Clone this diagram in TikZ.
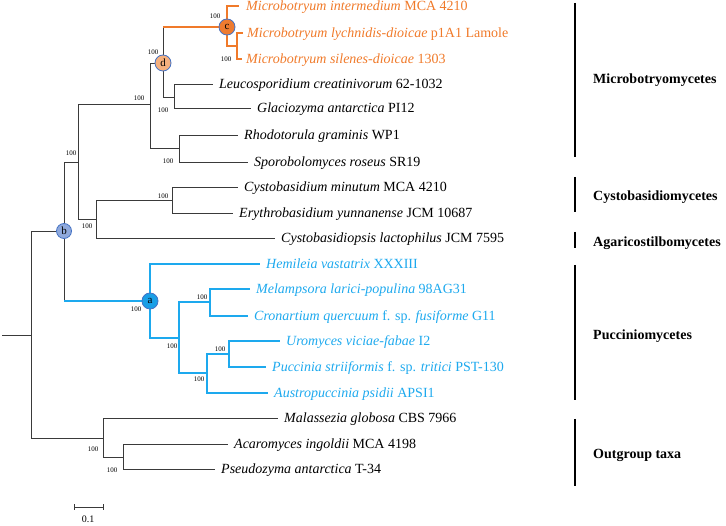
\documentclass[tikz,border=0pt]{standalone}
\usepackage{fontspec}
\setmainfont{Liberation Serif}
\definecolor{orng}{HTML}{F07A2A}
\definecolor{skyb}{HTML}{1DA9EE}
\definecolor{gline}{HTML}{3A3A3A}
\definecolor{cfill}{HTML}{EE7B30}
\definecolor{dfill}{HTML}{F5B07E}
\definecolor{bfill}{HTML}{8FA9DC}
\definecolor{afill}{HTML}{1A9FE6}
\definecolor{ringb}{HTML}{4472C4}
\begin{document}
\begin{tikzpicture}[x=1pt,y=-1pt,
  br/.style={draw=gline, line width=0.8pt},
  obr/.style={draw=orng, line width=1.6pt},
  bbr/.style={draw=skyb, line width=1.6pt},
  tip/.style={anchor=west, inner sep=0pt, text height=10pt, text depth=0pt, font=\fontsize{14}{16}\selectfont},
  bs/.style={font=\fontsize{7}{8}\selectfont, inner sep=0pt},
  circ/.style={circle, draw=ringb, line width=0.8pt, minimum size=16pt, inner sep=0pt, font=\fontsize{11}{11}\selectfont},
  clade/.style={draw=black, line width=2.5pt},
  cladelab/.style={anchor=base west, font=\bfseries\fontsize{14}{16}\selectfont, inner sep=0pt}
]
\useasboundingbox (0,0) rectangle (726,526);
% internal nodes
\coordinate (stub) at (2,335);
\coordinate (root) at (31,335);
\coordinate (nb) at (64,231);
\coordinate (n78) at (78,162);
\coordinate (nMic) at (150,104);
\coordinate (nd) at (163,63);
\coordinate (nc) at (227,27);
\coordinate (nLS) at (237,46);
\coordinate (nLG) at (174,97);
\coordinate (nRS) at (179,148);
\coordinate (n96) at (96,219);
\coordinate (nCE) at (172,200);
\coordinate (na) at (150,301);
\coordinate (n179) at (179,338);
\coordinate (n210) at (210,302);
\coordinate (n207) at (207,373);
\coordinate (n229) at (229,354);
\coordinate (n103) at (103,438);
\coordinate (n123) at (123,457);
% tips
\node[tip, text=orng] (t1) at (246,6) {\itshape Microbotryum intermedium\/ \upshape MCA 4210};
\node[tip, text=orng] (t2) at (247,33) {\itshape Microbotryum lychnidis-dioicae\/ \upshape p1A1 Lamole};
\node[tip, text=orng] (t3) at (246,59) {\itshape Microbotryum silenes-dioicae\/ \upshape 1303};
\node[tip] (t4) at (219,84) {\itshape Leucosporidium creatinivorum\/ \upshape 62-1032};
\node[tip] (t5) at (257,108) {\itshape Glaciozyma antarctica\/ \upshape PI12};
\node[tip] (t6) at (244,135) {\itshape Rhodotorula graminis\/ \upshape WP1};
\node[tip] (t7) at (254,162) {\itshape Sporobolomyces roseus\/ \upshape SR19};
\node[tip] (t8) at (244,187) {\itshape Cystobasidium minutum\/ \upshape MCA 4210};
\node[tip] (t9) at (239,213) {\itshape Erythrobasidium yunnanense\/ \upshape JCM 10687};
\node[tip] (t10) at (281,238) {\itshape Cystobasidiopsis lactophilus\/ \upshape JCM 7595};
\node[tip, text=skyb] (t11) at (266,264) {\itshape Hemileia vastatrix\/ \upshape XXXIII};
\node[tip, text=skyb] (t12) at (256,289) {\itshape Melampsora larici-populina\/ \upshape 98AG31};
\node[tip, text=skyb] (t13) at (254,316) {\itshape Cronartium quercuum\/ \upshape f. sp. \itshape fusiforme\/ \upshape G11};
\node[tip, text=skyb] (t14) at (286,341) {\itshape Uromyces viciae-fabae\/ \upshape I2};
\node[tip, text=skyb] (t15) at (272,367) {\itshape Puccinia striiformis\/ \upshape f. sp. \itshape tritici\/ \upshape PST-130};
\node[tip, text=skyb] (t16) at (274,393) {\itshape Austropuccinia psidii\/ \upshape APSI1};
\node[tip] (t17) at (284,418) {\itshape Malassezia globosa\/ \upshape CBS 7966};
\node[tip] (t18) at (234,444) {\itshape Acaromyces ingoldii\/ \upshape MCA 4198};
\node[tip] (t19) at (221,469) {\itshape Pseudozyma antarctica\/ \upshape T-34};
% branches
\draw[br] (stub) -- (root);
\draw[br] (root) |- (nb);
\draw[br] (root) |- (n103);
\draw[br] (nb) |- (n78);
\draw[br] (nb) -- (nb |- na);
\draw[bbr] (nb |- na) -- (na);
\draw[br] (n78) |- (nMic);
\draw[br] (n78) |- (n96);
\draw[br] (nMic) |- (nd);
\draw[br] (nMic) |- (nRS);
\draw[br] (nd) -- (nd |- nc);
\draw[obr] (nd |- nc) -- (nc);
\draw[br] (nd) |- (nLG);
\draw[obr] (nc) |- ([xshift=-7pt]t1.west);
\draw[obr] (nc) |- (nLS);
\draw[obr] (nLS) |- ([xshift=-4pt]t2.west);
\draw[obr] (nLS) |- ([xshift=-4pt]t3.west);
\draw[br] (nLG) |- ([xshift=-6pt]t4.west);
\draw[br] (nLG) |- ([xshift=-6pt]t5.west);
\draw[br] (nRS) |- ([xshift=-6pt]t6.west);
\draw[br] (nRS) |- ([xshift=-6pt]t7.west);
\draw[br] (n96) |- (nCE);
\draw[br] (n96) |- ([xshift=-6pt]t10.west);
\draw[br] (nCE) |- ([xshift=-6pt]t8.west);
\draw[br] (nCE) |- ([xshift=-6pt]t9.west);
\draw[bbr] (na) |- ([xshift=-6pt]t11.west);
\draw[bbr] (na) |- (n179);
\draw[bbr] (n179) |- (n210);
\draw[bbr] (n179) |- (n207);
\draw[bbr] (n210) |- ([xshift=-6pt]t12.west);
\draw[bbr] (n210) |- ([xshift=-6pt]t13.west);
\draw[bbr] (n207) |- (n229);
\draw[bbr] (n207) |- ([xshift=-6pt]t16.west);
\draw[bbr] (n229) |- ([xshift=-6pt]t14.west);
\draw[bbr] (n229) |- ([xshift=-6pt]t15.west);
\draw[br] (n103) |- ([xshift=-6pt]t17.west);
\draw[br] (n103) |- (n123);
\draw[br] (n123) |- ([xshift=-6pt]t18.west);
\draw[br] (n123) |- ([xshift=-6pt]t19.west);
% circles
\node[circ, fill=cfill] (c) at (nc) {c};
\node[circ, fill=dfill] (d) at (nd) {d};
\node[circ, fill=bfill, minimum size=15pt] (b) at (nb) {b};
\node[circ, fill=afill] (a) at (na) {a};
% support values
\node[bs] (s1) at (215,16) {100};
\node[bs] (s2) at (226,59) {100};
\node[bs] (s3) at (153,52) {100};
\node[bs] (s4) at (163,110) {100};
\node[bs] (s5) at (139,98) {100};
\node[bs] (s6) at (168,161) {100};
\node[bs] (s7) at (71,153) {100};
\node[bs] (s8) at (163,196) {100};
\node[bs] (s9) at (87,226) {100};
\node[bs] (s10) at (136,309) {100};
\node[bs] (s11) at (172,346) {100};
\node[bs] (s12) at (202,297) {100};
\node[bs] (s13) at (220,349) {100};
\node[bs] (s14) at (199,379) {100};
\node[bs] (s15) at (93,449) {100};
\node[bs] (s16) at (112,470) {100};
% clade bars
\coordinate (m1) at (575,3); \coordinate (m2) at (575,157);
\coordinate (cy1) at (575,177); \coordinate (cy2) at (575,212);
\coordinate (ag1) at (575,232); \coordinate (ag2) at (575,248);
\coordinate (pu1) at (575,265); \coordinate (pu2) at (575,400);
\coordinate (og1) at (575,419); \coordinate (og2) at (575,486);
\draw[clade] (m1) -- (m2);
\draw[clade] (cy1) -- (cy2);
\draw[clade] (ag1) -- (ag2);
\draw[clade] (pu1) -- (pu2);
\draw[clade] (og1) -- (og2);
\node[cladelab] (L1) at (593,84) {Microbotryomycetes};
\node[cladelab] (L2) at (593,201) {Cystobasidiomycetes};
\node[cladelab] (L3) at (593,247) {Agaricostilbomycetes};
\node[cladelab] (L4) at (593,340) {Pucciniomycetes};
\node[cladelab] (L5) at (593,459) {Outgroup taxa};
% scale bar
\coordinate (sb1) at (74,507); \coordinate (sb2) at (103,507);
\draw[br] (sb1) -- (sb2);
\draw[br] ([yshift=-3pt]sb1) -- ([yshift=3pt]sb1);
\draw[br] ([yshift=-3pt]sb2) -- ([yshift=3pt]sb2);
\node[font=\fontsize{10}{11}\selectfont, inner sep=0pt] (sbl) at (88,519) {0.1};
\end{tikzpicture}
\end{document}
